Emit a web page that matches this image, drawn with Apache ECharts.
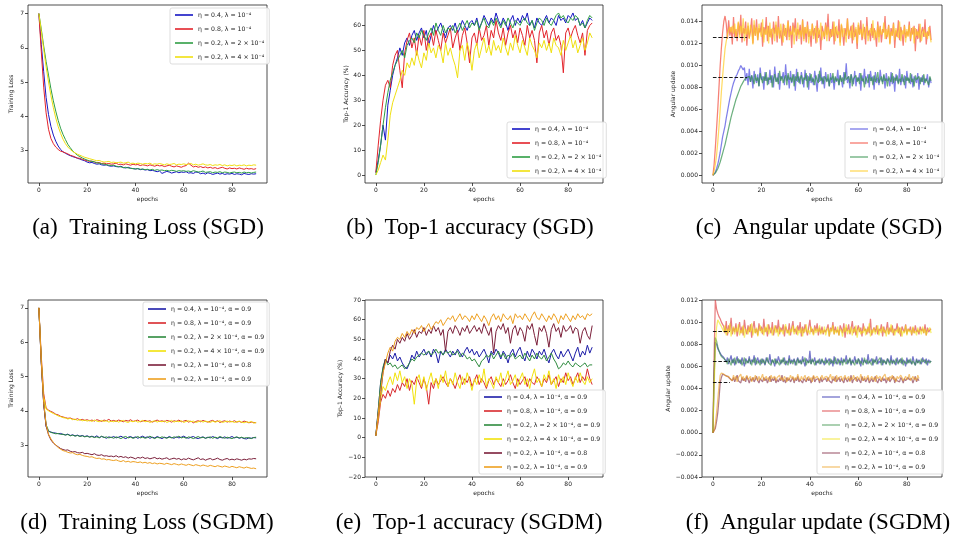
<!DOCTYPE html>
<html>
<head>
<meta charset="utf-8">
<script src="https://cdn.jsdelivr.net/npm/echarts@6/dist/echarts.min.js"></script>
<style>
  html, body { margin: 0; padding: 0; background: #fff; }
  #chart { width: 955px; height: 540px; }
</style>
</head>
<body>
<div id="chart"></div>
<script>
// ---- data ----
// loss / accuracy: one value per epoch, epochs 0..90
// angular update: two values per epoch (0, 0.5, ... 90), in units of 1e-4

// (a) training loss, SGD
const lossSgdBlue = [
  7.00, 6.10, 5.30, 4.55, 4.05, 3.70, 3.45, 3.27, 3.13, 3.03,
  2.96, 2.92, 2.88, 2.85, 2.82, 2.80, 2.77, 2.75, 2.72, 2.70,
  2.66, 2.64, 2.65, 2.62, 2.60, 2.61, 2.58, 2.57, 2.58, 2.55,
  2.54, 2.55, 2.53, 2.52, 2.54, 2.50, 2.49, 2.51, 2.48, 2.47,
  2.46, 2.47, 2.44, 2.45, 2.43, 2.44, 2.41, 2.42, 2.40, 2.38,
  2.40, 2.33, 2.36, 2.39, 2.37, 2.34, 2.36, 2.38, 2.35, 2.37,
  2.36, 2.38, 2.34, 2.35, 2.33, 2.37, 2.36, 2.32, 2.34, 2.31,
  2.35, 2.33, 2.30, 2.32, 2.34, 2.31, 2.33, 2.30, 2.32, 2.31,
  2.33, 2.30, 2.32, 2.31, 2.29, 2.33, 2.31, 2.30, 2.32, 2.31,
  2.32];
const lossSgdRed = [
  7.00, 5.90, 4.85, 4.10, 3.62, 3.35, 3.20, 3.10, 3.03, 2.98,
  2.96, 2.93, 2.90, 2.86, 2.84, 2.81, 2.78, 2.77, 2.74, 2.72,
  2.70, 2.68, 2.69, 2.66, 2.64, 2.65, 2.62, 2.63, 2.61, 2.62,
  2.60, 2.61, 2.63, 2.59, 2.60, 2.58, 2.61, 2.59, 2.57, 2.60,
  2.58, 2.59, 2.56, 2.58, 2.57, 2.55, 2.58, 2.56, 2.54, 2.57,
  2.55, 2.56, 2.53, 2.55, 2.57, 2.54, 2.52, 2.55, 2.53, 2.51,
  2.54, 2.56, 2.63, 2.57, 2.52, 2.54, 2.51, 2.53, 2.50, 2.52,
  2.49, 2.51, 2.48, 2.50, 2.47, 2.49, 2.51, 2.48, 2.46, 2.49,
  2.47, 2.48, 2.46, 2.49, 2.47, 2.45, 2.48, 2.46, 2.47, 2.45,
  2.47];
const lossSgdGreen = [
  7.00, 6.55, 6.05, 5.60, 5.20, 4.80, 4.45, 4.15, 3.88, 3.65,
  3.47, 3.32, 3.18, 3.08, 2.99, 2.92, 2.86, 2.82, 2.78, 2.75,
  2.72, 2.70, 2.68, 2.67, 2.64, 2.63, 2.61, 2.60, 2.58, 2.57,
  2.56, 2.57, 2.54, 2.53, 2.52, 2.50, 2.51, 2.49, 2.48, 2.47,
  2.46, 2.47, 2.45, 2.46, 2.44, 2.45, 2.43, 2.45, 2.42, 2.44,
  2.42, 2.43, 2.41, 2.42, 2.40, 2.42, 2.41, 2.39, 2.41, 2.40,
  2.41, 2.39, 2.40, 2.38, 2.41, 2.39, 2.37, 2.38, 2.40, 2.36,
  2.37, 2.38, 2.35, 2.37, 2.36, 2.38, 2.35, 2.37, 2.36, 2.34,
  2.36, 2.37, 2.35, 2.36, 2.34, 2.37, 2.35, 2.36, 2.34, 2.36,
  2.37];
const lossSgdYellow = [
  7.00, 6.50, 5.95, 5.45, 5.00, 4.60, 4.25, 3.95, 3.70, 3.50,
  3.33, 3.20, 3.10, 3.03, 2.97, 2.93, 2.89, 2.86, 2.83, 2.80,
  2.78, 2.76, 2.74, 2.72, 2.70, 2.71, 2.68, 2.66, 2.67, 2.68,
  2.65, 2.66, 2.64, 2.65, 2.66, 2.63, 2.64, 2.66, 2.62, 2.63,
  2.61, 2.63, 2.62, 2.60, 2.62, 2.61, 2.63, 2.59, 2.61, 2.60,
  2.62, 2.60, 2.58, 2.61, 2.59, 2.60, 2.62, 2.58, 2.60, 2.59,
  2.61, 2.59, 2.60, 2.62, 2.58, 2.60, 2.57, 2.59, 2.61, 2.58,
  2.57, 2.59, 2.56, 2.58, 2.57, 2.59, 2.56, 2.58, 2.55, 2.57,
  2.56, 2.58, 2.55, 2.57, 2.56, 2.58, 2.55, 2.57, 2.56, 2.58,
  2.57];

// (b) top-1 accuracy (%), SGD
const accSgdBlue = [
  1, 6, 12, 20, 14, 28, 34, 40, 44, 47,
  51, 48, 53, 55, 52, 56, 58, 54, 57, 59,
  55, 58, 52, 56, 60, 57, 59, 61, 58, 55,
  59, 60, 58, 61, 57, 59, 62, 60, 58, 61,
  62, 60, 63, 59, 61, 64, 62, 60, 63, 61,
  65, 62, 60, 63, 61, 58, 62, 64, 60, 63,
  61, 64, 62, 65, 60, 62, 59, 63, 61, 60,
  62, 64, 61, 63, 62, 60, 64, 62, 63, 61,
  64, 63, 65, 62, 63, 60, 62, 59, 61, 63,
  62];
const accSgdRed = [
  1, 12, 22, 30, 36, 38, 35, 44, 48, 50,
  42, 35, 49, 54, 57, 51, 55, 48, 56, 52,
  58, 50, 55, 57, 52, 58, 54, 50, 57, 53,
  56, 59, 51, 55, 58, 50, 56, 59, 53, 45,
  55, 57, 52, 59, 54, 56, 60, 52, 58, 55,
  62, 57, 54, 59, 52, 57, 60, 55, 58, 53,
  59, 56, 52, 60, 55, 58, 54, 45, 57, 60,
  55, 58, 52, 57, 59, 54, 56, 52, 41, 57,
  59, 55, 58, 60, 56, 53, 57, 48, 58, 60,
  61];
const accSgdGreen = [
  0, 5, 12, 20, 27, 33, 38, 41, 44, 46,
  48, 50, 47, 52, 54, 55, 53, 57, 55, 58,
  56, 54, 57, 59, 56, 61, 58, 56, 60, 57,
  59, 58, 60, 57, 59, 61, 58, 60, 62, 59,
  61, 60, 62, 58, 61, 63, 60, 59, 62, 60,
  63, 61, 59, 62, 60, 63, 61, 59, 62, 61,
  60, 62, 63, 61, 60, 62, 58, 61, 63, 62,
  60, 63, 61, 60, 62, 64, 65, 63, 64, 62,
  61, 63, 62, 64, 63, 60, 61, 59, 62, 64,
  63];
const accSgdYellow = [
  0, 2, 5, 8, 6, 14, 24, 29, 32, 35,
  38, 42, 40, 45, 43, 47, 44, 50, 46, 43,
  49, 46, 53, 49, 51, 47, 52, 50, 45, 53,
  48, 51, 47, 44, 39, 50, 52, 46, 53, 49,
  42, 50, 53, 47, 51, 55, 49, 52, 48, 54,
  50, 52, 49, 55, 51, 48, 53, 50, 56, 52,
  49, 54, 51, 48, 55, 52, 50, 47, 53, 51,
  54, 50, 53, 49, 55, 52, 51, 48, 54, 50,
  53, 56, 51, 54, 49, 52, 55, 50, 53, 57,
  55];

// (c) angular update, SGD (x 1e-4), half-epoch steps
const angSgdBlue = [
  0, 1, 3, 6, 10, 15, 21, 28, 35, 40, 45, 52, 58, 64, 70, 75, 80, 84, 87, 90,
  92, 95, 97, 100, 101, 96, 98,
  86, 93, 82, 97, 85, 91, 79, 95, 88, 84,
  92, 81, 98, 87, 90, 78, 94, 86, 89, 83,
  96, 84, 91, 80, 99, 87, 85, 93, 78, 90,
  88, 94, 82, 101, 86, 91, 79, 95, 84, 89,
  92, 77, 97, 85, 90, 83, 94, 87, 80, 96,
  86, 91, 78, 93, 84, 89, 82, 95, 87, 76,
  92, 85, 98, 83, 90, 79, 94, 86, 88, 81,
  93, 84, 90, 78, 89, 85, 96, 82, 91, 87,
  80, 94, 86, 102, 84, 90, 79, 92, 88, 83,
  95, 81, 89, 86, 93, 77, 91, 85, 97, 83,
  88, 92, 80, 95, 86, 90, 78, 94, 84, 89,
  82, 96, 87, 85, 91, 79, 93, 86, 88, 81,
  94, 83, 90, 76, 92, 87, 84, 97, 82, 89,
  85, 91, 79, 95, 86, 88, 83, 92, 80, 90,
  87, 84, 93, 78, 89, 85, 91, 82, 88, 86,
  92, 80, 89, 84];
const angSgdRed = [
  0, 10, 25, 42, 60, 80, 100, 116, 130, 140, 145,
  138, 124, 141, 127, 135, 119, 144, 126, 133, 122,
  139, 128, 146, 121, 134, 129, 140, 118, 136, 125,
  131, 143, 120, 137, 127, 142, 123, 134, 130, 139,
  117, 135, 128, 144, 122, 136, 126, 133, 119, 140,
  129, 137, 121, 145, 125, 132, 118, 138, 127, 134,
  123, 141, 126, 136, 116, 139, 130, 143, 122, 133,
  128, 137, 119, 142, 124, 135, 121, 140, 126, 131,
  117, 138, 127, 134, 120, 141, 125, 132, 114, 136,
  131, 124, 139, 128, 147, 122, 133, 126, 140, 119,
  135, 129, 125, 142, 121, 137, 130, 118, 134, 127,
  143, 124, 131, 136, 120, 139, 126, 133, 115, 137,
  128, 141, 123, 130, 135, 119, 144, 127, 132, 122,
  138, 125, 134, 129, 117, 140, 126, 136, 121, 133,
  130, 145, 124, 128, 137, 120, 134, 127, 139, 116,
  132, 126, 141, 123, 135, 129, 118, 137, 125, 131,
  127, 140, 122, 134, 128, 136, 113, 133, 124, 138,
  121, 130, 135, 126, 142, 119, 131, 127, 136, 123];
const angSgdGreen = [
  0, 1, 2, 4, 6, 9, 12, 16, 20, 24, 28, 33, 38, 43, 48, 53, 57, 61, 65, 69,
  72, 75, 78, 81, 83, 85, 87, 88, 89, 90, 90,
  85, 91, 87, 83, 92, 86, 89, 81, 93, 88,
  84, 90, 86, 94, 82, 89, 87, 91, 80, 88,
  92, 85, 89, 83, 95, 86, 90, 84, 88, 91,
  82, 93, 87, 89, 85, 92, 81, 90, 86, 94,
  84, 88, 91, 83, 89, 87, 93, 80, 90, 86,
  92, 85, 88, 82, 91, 87, 84, 95, 86, 89,
  83, 90, 88, 85, 92, 81, 89, 87, 93, 84,
  90, 86, 88, 82, 91, 85, 89, 83, 94, 87,
  86, 90, 84, 92, 81, 88, 87, 91, 85, 89,
  83, 93, 86, 88, 80, 90, 87, 84, 92, 86,
  89, 82, 91, 85, 88, 94, 84, 87, 90, 83,
  92, 86, 88, 81, 90, 87, 85, 93, 84, 89,
  86, 91, 83, 88, 85, 92, 87, 82, 90, 86,
  89, 84, 93, 85, 88, 81, 91, 87, 86, 90,
  83, 89, 85, 92, 84, 88, 87, 82, 90, 86];
const angSgdYellow = [
  0, 4, 10, 18, 30, 44, 60, 76, 90, 103, 115, 122, 128, 132, 135, 130, 136,
  129, 138, 126, 132, 140, 125, 136, 129, 143, 122,
  134, 128, 139, 124, 137, 131, 119, 141, 127, 135,
  123, 138, 130, 126, 142, 121, 133, 128, 136, 120,
  139, 125, 134, 131, 122, 140, 127, 135, 124, 138,
  129, 121, 137, 126, 133, 140, 123, 131, 128, 136,
  119, 134, 127, 139, 124, 132, 126, 141, 122, 135,
  129, 137, 120, 133, 127, 138, 124, 130, 136, 121,
  134, 128, 139, 123, 131, 126, 137, 122, 135, 129,
  125, 133, 127, 140, 122, 136, 128, 131, 118, 138,
  126, 134, 129, 121, 142, 127, 132, 125, 137, 123,
  130, 135, 120, 139, 128, 133, 126, 138, 124, 131,
  136, 122, 129, 134, 127, 141, 123, 132, 125, 137,
  121, 135, 128, 130, 139, 124, 133, 126, 136, 119,
  131, 127, 138, 123, 134, 129, 125, 140, 122, 132,
  128, 136, 121, 133, 126, 137, 124, 130, 135, 120,
  134, 127, 131, 125, 138, 122, 129, 133, 126, 130,
  124, 135, 128, 121];
const angSgdLevels = [89, 126];
const angSgdLevelEnd = 14;

// (d) training loss, SGDM
const lossSgdmBlue = [
  7.00, 5.40, 4.20, 3.55, 3.40, 3.38, 3.36, 3.35, 3.33, 3.34,
  3.31, 3.30, 3.32, 3.28, 3.30, 3.27, 3.29, 3.26, 3.28, 3.25,
  3.27, 3.24, 3.26, 3.23, 3.27, 3.22, 3.25, 3.23, 3.20, 3.24,
  3.22, 3.25, 3.21, 3.23, 3.26, 3.22, 3.19, 3.23, 3.25, 3.21,
  3.24, 3.20, 3.23, 3.26, 3.22, 3.24, 3.20, 3.23, 3.21, 3.25,
  3.22, 3.19, 3.23, 3.21, 3.25, 3.22, 3.20, 3.24, 3.21, 3.23,
  3.26, 3.22, 3.20, 3.23, 3.25, 3.21, 3.19, 3.22, 3.24, 3.20,
  3.23, 3.21, 3.25, 3.22, 3.19, 3.23, 3.21, 3.24, 3.20, 3.22,
  3.25, 3.21, 3.23, 3.20, 3.22, 3.19, 3.18, 3.21, 3.20, 3.22,
  3.21];
const lossSgdmRed = [
  7.00, 5.60, 4.50, 4.08, 4.02, 3.98, 3.95, 3.90, 3.88, 3.84,
  3.82, 3.80, 3.78, 3.79, 3.76, 3.74, 3.77, 3.73, 3.75, 3.72,
  3.74, 3.71, 3.73, 3.70, 3.74, 3.72, 3.69, 3.73, 3.71, 3.75,
  3.70, 3.72, 3.69, 3.73, 3.71, 3.68, 3.72, 3.70, 3.74, 3.69,
  3.71, 3.73, 3.68, 3.70, 3.72, 3.69, 3.71, 3.67, 3.70, 3.73,
  3.69, 3.71, 3.68, 3.72, 3.70, 3.67, 3.71, 3.69, 3.73, 3.68,
  3.70, 3.72, 3.67, 3.70, 3.65, 3.69, 3.71, 3.68, 3.72, 3.69,
  3.67, 3.70, 3.72, 3.68, 3.71, 3.66, 3.69, 3.71, 3.67, 3.70,
  3.68, 3.71, 3.67, 3.69, 3.66, 3.70, 3.68, 3.65, 3.67, 3.66,
  3.65];
const lossSgdmGreen = [
  7.00, 5.45, 4.25, 3.60, 3.42, 3.37, 3.35, 3.33, 3.34, 3.31,
  3.32, 3.29, 3.31, 3.27, 3.29, 3.26, 3.28, 3.25, 3.27, 3.24,
  3.26, 3.23, 3.25, 3.22, 3.24, 3.21, 3.26, 3.22, 3.24, 3.21,
  3.23, 3.20, 3.24, 3.22, 3.19, 3.23, 3.25, 3.21, 3.23, 3.20,
  3.22, 3.25, 3.21, 3.23, 3.20, 3.22, 3.26, 3.22, 3.19, 3.23,
  3.21, 3.24, 3.22, 3.20, 3.23, 3.21, 3.24, 3.22, 3.26, 3.21,
  3.23, 3.20, 3.24, 3.22, 3.19, 3.22, 3.25, 3.21, 3.23, 3.20,
  3.22, 3.24, 3.20, 3.23, 3.21, 3.25, 3.22, 3.20, 3.23, 3.21,
  3.19, 3.22, 3.24, 3.21, 3.23, 3.20, 3.22, 3.21, 3.19, 3.22,
  3.23];
const lossSgdmYellow = [
  7.00, 5.50, 4.40, 4.05, 4.00, 3.96, 3.92, 3.89, 3.85, 3.83,
  3.80, 3.79, 3.76, 3.78, 3.74, 3.76, 3.72, 3.75, 3.71, 3.73,
  3.70, 3.72, 3.69, 3.73, 3.70, 3.68, 3.72, 3.69, 3.71, 3.67,
  3.70, 3.68, 3.71, 3.67, 3.70, 3.72, 3.68, 3.66, 3.70, 3.68,
  3.71, 3.67, 3.69, 3.72, 3.68, 3.70, 3.66, 3.69, 3.71, 3.67,
  3.70, 3.68, 3.71, 3.66, 3.69, 3.72, 3.67, 3.70, 3.68, 3.71,
  3.66, 3.69, 3.71, 3.68, 3.70, 3.66, 3.68, 3.71, 3.67, 3.70,
  3.68, 3.66, 3.70, 3.67, 3.69, 3.71, 3.66, 3.68, 3.70, 3.67,
  3.69, 3.66, 3.68, 3.70, 3.67, 3.65, 3.68, 3.66, 3.69, 3.64,
  3.66];
const lossSgdmMaroon = [
  7.00, 5.40, 4.20, 3.55, 3.30, 3.15, 3.06, 3.00, 2.95, 2.90,
  2.87, 2.85, 2.86, 2.82, 2.80, 2.81, 2.78, 2.77, 2.79, 2.75,
  2.76, 2.74, 2.72, 2.75, 2.71, 2.70, 2.72, 2.68, 2.69, 2.67,
  2.68, 2.66, 2.69, 2.65, 2.67, 2.64, 2.66, 2.62, 2.65, 2.63,
  2.60, 2.64, 2.62, 2.65, 2.61, 2.63, 2.60, 2.62, 2.64, 2.60,
  2.62, 2.59, 2.61, 2.63, 2.58, 2.60, 2.62, 2.59, 2.61, 2.57,
  2.60, 2.58, 2.62, 2.59, 2.57, 2.60, 2.63, 2.58, 2.60, 2.56,
  2.59, 2.61, 2.57, 2.59, 2.62, 2.58, 2.56, 2.59, 2.61, 2.57,
  2.59, 2.57, 2.60, 2.58, 2.56, 2.59, 2.57, 2.60, 2.59, 2.61,
  2.60];
const lossSgdmOrange = [
  7.00, 5.45, 4.25, 3.60, 3.32, 3.18, 3.08, 3.00, 2.93, 2.88,
  2.84, 2.82, 2.79, 2.77, 2.78, 2.74, 2.72, 2.73, 2.70, 2.68,
  2.67, 2.65, 2.66, 2.63, 2.61, 2.62, 2.59, 2.60, 2.57, 2.58,
  2.56, 2.55, 2.57, 2.54, 2.52, 2.55, 2.51, 2.53, 2.50, 2.52,
  2.51, 2.49, 2.51, 2.48, 2.50, 2.47, 2.49, 2.46, 2.48, 2.45,
  2.47, 2.46, 2.44, 2.47, 2.45, 2.43, 2.46, 2.44, 2.42, 2.45,
  2.43, 2.41, 2.44, 2.42, 2.40, 2.43, 2.41, 2.39, 2.42, 2.40,
  2.38, 2.41, 2.39, 2.37, 2.40, 2.38, 2.36, 2.39, 2.37, 2.35,
  2.38, 2.36, 2.34, 2.37, 2.35, 2.33, 2.36, 2.34, 2.32, 2.33,
  2.31];

// (e) top-1 accuracy (%), SGDM
const accSgdmBlue = [
  1, 14, 28, 35, 40, 38, 42, 40, 43, 39,
  41, 38, 36, 35, 38, 42, 40, 44, 41, 43,
  45, 42, 44, 41, 45, 43, 38, 44, 42, 45,
  43, 41, 44, 42, 45, 43, 41, 44, 46, 43,
  45, 42, 44, 41, 43, 45, 42, 38, 44, 42,
  45, 43, 40, 44, 42, 38, 43, 45, 41, 44,
  46, 42, 39, 44, 41, 45, 43, 40, 44, 42,
  45, 41, 38, 43, 45, 42, 40, 44, 41, 43,
  45, 42, 39, 43, 46, 41, 44, 42, 47, 43,
  46];
const accSgdmRed = [
  1, 8, 18, 22, 20, 24, 21, 25, 23, 27,
  24, 28, 26, 30, 24, 29, 27, 31, 28, 25,
  30, 26, 17, 28, 25, 30, 27, 29, 31, 28,
  26, 30, 28, 25, 29, 32, 27, 30, 28, 31,
  26, 29, 32, 27, 30, 28, 25, 29, 31, 27,
  30, 28, 26, 30, 27, 29, 32, 28, 25, 30,
  27, 29, 31, 26, 30, 28, 27, 31, 29, 26,
  30, 28, 32, 27, 29, 31, 26, 30, 28, 33,
  29, 31, 27, 30, 33, 28, 31, 29, 35, 30,
  27];
const accSgdmGreen = [
  1, 14, 28, 36, 40, 37, 38, 36, 37, 35,
  36, 37, 35, 36, 38, 40, 39, 41, 42, 43,
  42, 43, 44, 42, 43, 45, 43, 44, 42, 44,
  43, 44, 42, 43, 44, 41, 43, 42, 40, 41,
  39, 40, 38, 36, 39, 40, 42, 41, 43, 40,
  42, 44, 41, 43, 40, 42, 41, 43, 40, 41,
  42, 40, 43, 41, 39, 42, 40, 43, 41, 40,
  42, 39, 41, 43, 40, 38, 35, 36, 38, 37,
  39, 37, 36, 38, 37, 36, 37, 38, 36, 37,
  37];
const accSgdmYellow = [
  1, 10, 20, 26, 24, 28, 31, 27, 33, 29,
  34, 28, 31, 25, 30, 27, 17, 29, 32, 26,
  31, 24, 29, 33, 27, 30, 25, 32, 28, 34,
  26, 30, 27, 33, 28, 25, 31, 27, 33, 29,
  24, 30, 27, 32, 28, 35, 26, 30, 28, 25,
  31, 28, 33, 26, 30, 34, 27, 29, 32, 26,
  30, 33, 27, 30, 25, 31, 35, 28, 30, 26,
  32, 29, 34, 27, 30, 25, 32, 28, 31, 27,
  33, 29, 26, 31, 28, 33, 29, 27, 31, 28,
  30];
const accSgdmMaroon = [
  1, 12, 22, 33, 40, 38, 44, 47, 45, 50,
  48, 51, 49, 53, 50, 52, 55, 51, 54, 53,
  56, 52, 55, 53, 57, 54, 56, 52, 55, 44,
  54, 56, 53, 57, 55, 52, 56, 54, 57, 53,
  55, 57, 54, 56, 53, 58, 55, 52, 56, 43,
  54, 57, 55, 58, 53, 56, 48, 55, 57, 52,
  56, 54, 49, 57, 55, 58, 52, 47, 56, 54,
  57, 53, 46, 55, 58, 54, 56, 51, 57, 54,
  55, 57, 53, 56, 55, 48, 54, 56, 52, 50,
  57];
const accSgdmOrange = [
  1, 12, 24, 33, 38, 43, 46, 44, 49, 51,
  50, 53, 51, 54, 52, 55, 53, 56, 55, 57,
  54, 56, 58, 55, 57, 59, 58, 60, 57, 59,
  61, 60, 62, 59, 61, 63, 60, 62, 61, 59,
  62, 60, 63, 61, 59, 62, 60, 57, 61, 63,
  60, 62, 59, 63, 61, 60, 62, 58, 63, 61,
  62, 60, 63, 61, 59, 62, 64, 61, 60, 63,
  61, 59, 62, 60, 63, 61, 58, 62, 60, 63,
  61, 59, 62, 60, 63, 61, 62, 60, 63, 62,
  63];

// (f) angular update, SGDM (x 1e-4), half-epoch steps
const angSgdmBlue = [
  0, 50, 82, 80, 76, 74, 72, 70, 69, 68, 67,
  64, 68, 62, 66, 70, 63, 67, 61, 65, 69,
  63, 66, 62, 68, 64, 60, 67, 65, 63, 69,
  62, 66, 64, 70, 61, 65, 68, 63, 66, 62,
  67, 64, 61, 68, 65, 63, 71, 62, 66, 64,
  60, 67, 63, 69, 65, 62, 66, 64, 68, 61,
  65, 63, 70, 62, 66, 64, 67, 61, 65, 68,
  63, 66, 62, 69, 64, 60, 67, 65, 63, 74,
  62, 66, 64, 68, 61, 65, 63, 67, 62, 66,
  64, 61, 68, 63, 65, 67, 62, 66, 60, 69,
  64, 62, 67, 65, 61, 68, 63, 66, 64, 70,
  62, 65, 67, 61, 66, 63, 69, 64, 62, 67,
  65, 60, 68, 63, 66, 64, 62, 71, 63, 65,
  67, 61, 66, 64, 69, 62, 65, 63, 68, 61,
  66, 64, 62, 67, 65, 63, 70, 62, 66, 64,
  61, 68, 63, 65, 67, 62, 66, 64, 60, 68,
  63, 66, 65, 62, 69, 64, 61, 67, 63, 66,
  64, 62, 68, 65, 63, 67, 61, 66, 64, 65];
const angSgdmRed = [
  0, 70, 120, 112, 108, 105, 103, 100, 98,
  96, 90, 101, 88, 97, 92, 104, 89, 95, 91,
  99, 87, 94, 100, 90, 96, 88, 102, 93, 89,
  97, 91, 98, 86, 95, 101, 90, 94, 88, 99,
  92, 96, 89, 103, 91, 95, 87, 98, 93, 90,
  100, 88, 94, 97, 91, 102, 89, 95, 92, 98,
  87, 96, 93, 90, 99, 88, 95, 101, 91, 94,
  89, 97, 92, 100, 87, 96, 90, 98, 93, 88,
  95, 102, 91, 94, 89, 97, 92, 99, 88, 95,
  90, 96, 89, 93, 91, 94, 98, 87, 95, 92,
  100, 89, 96, 91, 93, 88, 97, 94, 90, 99,
  86, 95, 92, 98, 89, 94, 101, 90, 96, 88,
  93, 97, 91, 95, 87, 99, 92, 94, 89, 96,
  90, 103, 88, 93, 95, 91, 97, 89, 94, 92,
  98, 87, 96, 90, 93, 100, 89, 95, 91, 97,
  88, 94, 92, 99, 90, 95, 87, 96, 93, 91,
  98, 89, 94, 92, 96, 88, 95, 90, 97, 91,
  93, 89, 96, 92, 94, 90, 98, 88, 95, 91,
  93, 94];
const angSgdmGreen = [
  0, 55, 86, 83, 78, 74, 71, 69, 68, 67, 66,
  65, 62, 67, 64, 61, 66, 63, 68, 62, 65,
  67, 63, 66, 61, 64, 68, 62, 65, 63, 67,
  64, 61, 66, 63, 68, 62, 65, 64, 61, 67,
  63, 66, 62, 65, 68, 63, 64, 61, 66, 63,
  67, 62, 65, 64, 61, 66, 63, 68, 62, 65,
  64, 61, 67, 63, 65, 62, 66, 64, 61, 67,
  63, 65, 62, 66, 64, 68, 61, 65, 63, 66,
  62, 67, 64, 61, 65, 63, 66, 62, 64, 67,
  63, 65, 62, 66, 64, 61, 67, 63, 65, 62,
  68, 64, 62, 66, 63, 65, 61, 67, 64, 62,
  66, 63, 68, 62, 65, 64, 61, 66, 63, 67,
  62, 65, 64, 61, 68, 63, 66, 62, 65, 64,
  61, 67, 63, 66, 62, 65, 64, 68, 61, 66,
  63, 65, 62, 67, 64, 61, 66, 63, 65, 62,
  67, 64, 62, 66, 63, 68, 61, 65, 64, 62,
  66, 63, 67, 62, 65, 64, 61, 66, 63, 65,
  62, 67, 64, 63, 66, 62, 65, 64, 63, 65];
const angSgdmYellow = [
  0, 40, 75, 95, 102, 100, 98, 96, 95,
  91, 97, 88, 94, 90, 99, 87, 93, 96, 89,
  95, 91, 98, 88, 93, 90, 97, 86, 94, 92,
  89, 96, 91, 99, 88, 94, 90, 95, 87, 93,
  97, 90, 94, 88, 96, 91, 98, 89, 93, 95,
  88, 92, 97, 90, 94, 87, 96, 91, 93, 89,
  95, 98, 90, 93, 88, 94, 91, 97, 89, 92,
  96, 88, 93, 90, 95, 87, 94, 91, 98, 90,
  93, 89, 96, 92, 88, 95, 90, 94, 91, 97,
  89, 93, 90, 96, 88, 92, 95, 87, 94, 91,
  97, 89, 93, 90, 96, 88, 94, 92, 87, 95,
  91, 98, 89, 93, 90, 96, 88, 94, 91, 97,
  86, 93, 95, 89, 92, 90, 96, 88, 94, 91,
  99, 87, 93, 90, 95, 89, 92, 97, 88, 94,
  90, 96, 91, 93, 87, 95, 89, 92, 98, 90,
  94, 88, 93, 91, 96, 89, 95, 87, 92, 90,
  97, 88, 94, 91, 93, 89, 96, 90, 92, 88,
  95, 91, 93, 89, 96, 90, 94, 88, 92, 91,
  95, 90];
const angSgdmMaroon = [
  0, 1, 4, 10, 18, 30, 45, 50, 53, 53, 52, 51, 51, 50, 49,
  50, 47, 50, 46, 49, 52, 47, 48, 45, 50,
  47, 49, 46, 51, 48, 45, 49, 47, 50, 46,
  48, 51, 47, 45, 49, 48, 46, 50, 47, 49,
  45, 48, 51, 46, 49, 47, 50, 45, 48, 46,
  49, 47, 52, 46, 48, 45, 50, 47, 49, 46,
  48, 50, 45, 49, 47, 51, 46, 48, 47, 45,
  49, 48, 46, 50, 47, 49, 45, 48, 51, 46,
  48, 47, 49, 45, 50, 46, 48, 47, 49, 46,
  50, 47, 48, 45, 49, 47, 51, 46, 48, 50,
  46, 49, 47, 45, 50, 48, 46, 49, 47, 52,
  45, 48, 47, 50, 46, 49, 48, 45, 51, 47,
  49, 46, 48, 50, 45, 47, 49, 46, 48, 51,
  47, 45, 49, 48, 46, 50, 47, 49, 45, 48,
  50, 46, 48, 47, 51, 45, 49, 47, 48, 46,
  50, 48, 45, 49, 47, 46, 50, 48, 47, 49,
  45, 48, 51, 46, 49, 47];
const angSgdmOrange = [
  0, 2, 8, 18, 30, 42, 52, 54, 54, 53, 52, 51, 50, 51, 49,
  50, 47, 52, 48, 51, 46, 50, 49, 53, 48,
  51, 47, 50, 52, 48, 49, 51, 46, 50, 48,
  52, 49, 47, 51, 48, 50, 53, 47, 49, 51,
  48, 50, 46, 52, 49, 48, 51, 47, 50, 49,
  52, 48, 50, 47, 51, 49, 46, 50, 48, 52,
  49, 51, 47, 50, 48, 53, 49, 47, 51, 48,
  50, 52, 47, 49, 51, 48, 50, 46, 52, 49,
  48, 51, 49, 47, 50, 52, 48, 50, 49, 51,
  47, 50, 53, 48, 51, 49, 46, 52, 48, 50,
  49, 51, 47, 50, 52, 48, 49, 51, 46, 50,
  48, 52, 49, 47, 51, 50, 48, 53, 49, 47,
  51, 48, 50, 52, 47, 49, 51, 48, 50, 46,
  52, 49, 48, 51, 47, 50, 49, 53, 48, 50,
  47, 51, 49, 52, 48, 50, 46, 51, 49, 48,
  52, 50, 47, 49, 51, 48, 50, 53, 47, 49,
  51, 48, 50, 47, 52, 49];
const angSgdmLevels = [92, 65, 46];
const angSgdmLevelEnd = 7;

// ---- labels ----
const sgdNames = ['η = 0.4, λ = 10⁻⁴', 'η = 0.8, λ = 10⁻⁴', 'η = 0.2, λ = 2 × 10⁻⁴', 'η = 0.2, λ = 4 × 10⁻⁴'];
const sgdmNames = ['η = 0.4, λ = 10⁻⁴, α = 0.9', 'η = 0.8, λ = 10⁻⁴, α = 0.9', 'η = 0.2, λ = 2 × 10⁻⁴, α = 0.9',
  'η = 0.2, λ = 4 × 10⁻⁴, α = 0.9', 'η = 0.2, λ = 10⁻⁴, α = 0.8', 'η = 0.2, λ = 10⁻⁴, α = 0.9'];
const captions = ['(a)\u2002Training Loss (SGD)', '(b)\u2002Top-1 accuracy (SGD)', '(c)\u2002Angular update (SGD)',
  '(d)\u2002Training Loss (SGDM)', '(e)\u2002Top-1 accuracy (SGDM)', '(f)\u2002Angular update (SGDM)'];
const epochTicks = [0, 20, 40, 60, 80];
const lossTicks = [3, 4, 5, 6, 7];
const accSgdTicks = [0, 10, 20, 30, 40, 50, 60];
const accSgdmTicks = [-20, -10, 0, 10, 20, 30, 40, 50, 60, 70];
const angSgdTicks = [0, 0.002, 0.004, 0.006, 0.008, 0.010, 0.012, 0.014];
const angSgdmTicks = [-0.004, -0.002, 0, 0.002, 0.004, 0.006, 0.008, 0.010, 0.012];

const sgdColors = ['#1616c4', '#e3242b', '#2f9e44', '#f0e010'];
const sgdAngColors = ['#4a4ae0', '#f24a3c', '#2f8f48', '#ffcc22'];
const sgdmColors = ['#1c1ca8', '#d8282c', '#2e8b3e', '#f2e20c', '#7b1f3a', '#eea020'];

const chart = echarts.init(document.getElementById('chart'), null, { renderer: 'canvas' });

const FONT = 'DejaVu Sans';
const ink = '#222';

const grids = [
  { left: 28, top: 5, width: 239, height: 178 },
  { left: 365, top: 5, width: 238, height: 178 },
  { left: 702, top: 5, width: 240, height: 178 },
  { left: 28, top: 300, width: 239, height: 177 },
  { left: 365, top: 300, width: 238, height: 177 },
  { left: 702, top: 300, width: 240, height: 177 }
].map(g => Object.assign({ show: true, borderColor: ink, borderWidth: 0.8, backgroundColor: '#fff' }, g));

function xAxisFor(gridIndex) {
  return {
    type: 'value', gridIndex, min: -4.5, max: 94.5,
    name: 'epochs', nameLocation: 'middle', nameGap: 13,
    nameTextStyle: { fontSize: 6, color: ink, fontFamily: FONT },
    axisLine: { show: false, onZero: false },
    axisTick: { show: true, length: 3, lineStyle: { color: ink, width: 0.8 }, customValues: epochTicks },
    axisLabel: { fontSize: 6, color: ink, margin: 4, fontFamily: FONT, customValues: epochTicks },
    splitLine: { show: false }
  };
}

function yAxisFor(gridIndex, name, min, max, ticks, nameGap, fmt) {
  return {
    type: 'value', gridIndex, min, max,
    name, nameLocation: 'middle', nameGap,
    nameTextStyle: { fontSize: 6, color: ink, fontFamily: FONT },
    axisLine: { show: false, onZero: false },
    axisTick: { show: true, length: 3, lineStyle: { color: ink, width: 0.8 }, customValues: ticks },
    axisLabel: { fontSize: 6, color: ink, margin: 4, fontFamily: FONT, customValues: ticks, formatter: fmt },
    splitLine: { show: false }
  };
}

const minus = s => String(s).replace('-', '\u2212');
const fmtInt = v => minus(Math.round(v));
const fmt3 = v => minus(v.toFixed(3));

function line(gridIndex, name, values, color, width, opacity, scale, step) {
  return {
    type: 'line', name, xAxisIndex: gridIndex, yAxisIndex: gridIndex,
    data: values.map((v, i) => [i * step, v * scale]),
    symbol: 'none', showSymbol: false, animation: false, silent: true, z: 3,
    lineStyle: { color, width, opacity }, itemStyle: { color }
  };
}

// dashed equilibrium levels, drawn underneath the noisy curves
function levels(gridIndex, values, end, scale) {
  return {
    type: 'line', xAxisIndex: gridIndex, yAxisIndex: gridIndex, data: [], z: 1, silent: true,
    markLine: {
      symbol: 'none', silent: true, animation: false, label: { show: false },
      lineStyle: { color: '#000', type: 'dashed', width: 0.9 },
      data: values.map(v => [{ coord: [0, v * scale] }, { coord: [end, v * scale] }])
    }
  };
}

function legendFor(left, top, names, colors, opacity) {
  return {
    orient: 'vertical', left, top, selectedMode: false, icon: 'rect',
    itemWidth: 18, itemHeight: 1.6, itemGap: 6, padding: [3, 5],
    backgroundColor: 'rgba(255,255,255,0.85)', borderColor: '#d4d4d4', borderWidth: 0.8, borderRadius: 2,
    textStyle: { fontSize: 6.2, lineHeight: 8, color: ink, fontFamily: FONT },
    data: names.map((n, k) => ({ name: n, itemStyle: { color: colors[k], opacity } }))
  };
}

const S = 1e-4; // angular-update units
const AW = 1.25; // angular line width
const series = [
  line(0, sgdNames[0], lossSgdBlue, sgdColors[0], 1, 1, 1, 1),
  line(0, sgdNames[1], lossSgdRed, sgdColors[1], 1, 1, 1, 1),
  line(0, sgdNames[2], lossSgdGreen, sgdColors[2], 1, 1, 1, 1),
  line(0, sgdNames[3], lossSgdYellow, sgdColors[3], 1, 1, 1, 1),

  line(1, sgdNames[0], accSgdBlue, sgdColors[0], 1, 1, 1, 1),
  line(1, sgdNames[1], accSgdRed, sgdColors[1], 1, 1, 1, 1),
  line(1, sgdNames[2], accSgdGreen, sgdColors[2], 1, 1, 1, 1),
  line(1, sgdNames[3], accSgdYellow, sgdColors[3], 1, 1, 1, 1),

  levels(2, angSgdLevels, angSgdLevelEnd, S),
  line(2, sgdNames[0], angSgdBlue, sgdAngColors[0], AW, 0.7, S, 0.5),
  line(2, sgdNames[1], angSgdRed, sgdAngColors[1], AW, 0.7, S, 0.5),
  line(2, sgdNames[2], angSgdGreen, sgdAngColors[2], AW, 0.7, S, 0.5),
  line(2, sgdNames[3], angSgdYellow, sgdAngColors[3], AW, 0.7, S, 0.5),

  line(3, sgdmNames[0], lossSgdmBlue, sgdmColors[0], 1, 1, 1, 1),
  line(3, sgdmNames[1], lossSgdmRed, sgdmColors[1], 1, 1, 1, 1),
  line(3, sgdmNames[2], lossSgdmGreen, sgdmColors[2], 1, 1, 1, 1),
  line(3, sgdmNames[3], lossSgdmYellow, sgdmColors[3], 1, 1, 1, 1),
  line(3, sgdmNames[4], lossSgdmMaroon, sgdmColors[4], 1, 1, 1, 1),
  line(3, sgdmNames[5], lossSgdmOrange, sgdmColors[5], 1, 1, 1, 1),

  line(4, sgdmNames[0], accSgdmBlue, sgdmColors[0], 1, 1, 1, 1),
  line(4, sgdmNames[1], accSgdmRed, sgdmColors[1], 1, 1, 1, 1),
  line(4, sgdmNames[2], accSgdmGreen, sgdmColors[2], 1, 1, 1, 1),
  line(4, sgdmNames[3], accSgdmYellow, sgdmColors[3], 1, 1, 1, 1),
  line(4, sgdmNames[4], accSgdmMaroon, sgdmColors[4], 1, 1, 1, 1),
  line(4, sgdmNames[5], accSgdmOrange, sgdmColors[5], 1, 1, 1, 1),

  levels(5, angSgdmLevels, angSgdmLevelEnd, S),
  line(5, sgdmNames[0], angSgdmBlue, sgdmColors[0], AW, 0.6, S, 0.5),
  line(5, sgdmNames[1], angSgdmRed, sgdmColors[1], AW, 0.6, S, 0.5),
  line(5, sgdmNames[2], angSgdmGreen, sgdmColors[2], AW, 0.6, S, 0.5),
  line(5, sgdmNames[3], angSgdmYellow, sgdmColors[3], AW, 0.6, S, 0.5),
  line(5, sgdmNames[4], angSgdmMaroon, sgdmColors[4], AW, 0.6, S, 0.5),
  line(5, sgdmNames[5], angSgdmOrange, sgdmColors[5], AW, 0.6, S, 0.5)
];

const capPos = [[148, 228], [470, 228], [819, 228], [147, 523], [469, 523], [818, 523]];

chart.setOption({
  animation: false,
  grid: grids,
  xAxis: [0, 1, 2, 3, 4, 5].map(xAxisFor),
  yAxis: [
    yAxisFor(0, 'Training Loss', 2.05, 7.25, lossTicks, 14, fmtInt),
    yAxisFor(1, 'Top-1 Accuracy (%)', -3.2, 68.2, accSgdTicks, 15, fmtInt),
    yAxisFor(2, 'Angular update', -0.0007, 0.0155, angSgdTicks, 26, fmt3),
    yAxisFor(3, 'Training Loss', 2.07, 7.23, lossTicks, 14, fmtInt),
    yAxisFor(4, 'Top-1 Accuracy (%)', -20, 70, accSgdmTicks, 22, fmtInt),
    yAxisFor(5, 'Angular update', -0.004, 0.012, angSgdmTicks, 31, fmt3)
  ],
  legend: [
    legendFor(170, 8, sgdNames, sgdColors, 1),
    legendFor(507, 122, sgdNames, sgdColors, 1),
    legendFor(845, 122, sgdNames, sgdAngColors, 0.6),
    legendFor(143, 302, sgdmNames, sgdmColors, 1),
    legendFor(479, 390, sgdmNames, sgdmColors, 1),
    legendFor(817, 390, sgdmNames, sgdmColors, 0.5)
  ],
  series,
  graphic: captions.map((t, k) => ({
    type: 'text', x: capPos[k][0], y: capPos[k][1], silent: true,
    style: {
      text: t, fill: '#000', fontSize: 23, fontFamily: 'Liberation Serif',
      textAlign: 'center', textVerticalAlign: 'middle', align: 'center', verticalAlign: 'middle'
    }
  }))
});
</script>
</body>
</html>
